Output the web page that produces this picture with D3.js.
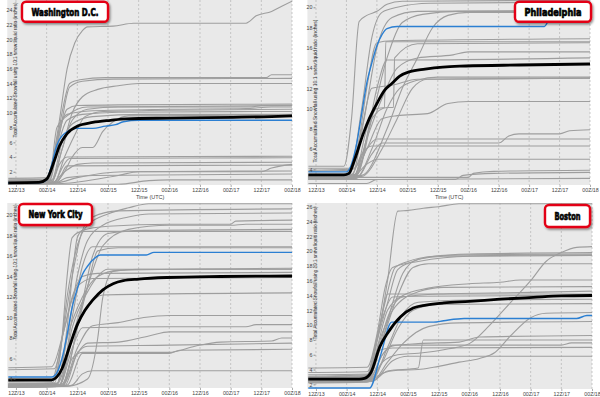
<!DOCTYPE html>
<html>
<head>
<meta charset="utf-8">
<script src="https://cdn.jsdelivr.net/npm/d3@7"></script>
<style>
  body { margin: 0; background: #fff; }
  svg { display: block; font-family: "Liberation Sans", Arial, sans-serif; }
</style>
</head>
<body>
<div class="chart"></div>
<script>
// hours after 12Z/13, one label every 12 h
const timeHours = [0, 12, 24, 36, 48, 60, 72, 84, 96, 108];
const timeLabels = ["12Z/13", "00Z/14", "12Z/14", "00Z/15", "12Z/15", "00Z/16", "12Z/16", "00Z/17", "12Z/17", "00Z/18"];
const yTitle = "Total Accumulated Snowfall using 10:1 snow:liquid ratio (inches)";

// ---- Washington D.C. ----
const dcTicks = [2, 4, 6, 8, 10, 12, 14, 16, 18, 20, 22, 24];
const dcRange = [0.2, 25.3];
const dcMean = [[-3,0.5],[9,0.55],[12,1.0],[15,3.5],[17,5.5],[20,7.2],[24,8.2],[30,8.7],[37,9.0],[43,9.2],[60,9.3],[85,9.4],[100,9.5],[108,9.6]];
const dcBlue = [[-3,0.5],[10,0.55],[12,0.9],[14,3],[16,5.6],[19,7.2],[24,7.9],[30,7.9],[35,8.2],[39,8.4],[42,8.8],[48,9.0],[108,9.0]];
const dcMembers = [
  [[-3,0.5],[11,0.6],[14,3],[17,9],[20,16],[23,19.5],[26,21.2],[28,21.7],[38,21.8],[46,22.2],[90,22.2],[94,23.2],[100,23.8],[104,24.5],[108,25.2]],
  [[-3,0.4],[12,0.5],[15,4],[18,10],[21,14],[25,14.5],[35,14.8],[98,14.8],[100,15.2],[108,15.2]],
  [[-3,0.6],[13,0.7],[17,7],[21,13.5],[26,14.3],[38,14.6],[108,14.7]],
  [[-3,0.5],[14,0.8],[18,5],[22,10],[26,12.2],[32,13.2],[40,13.7],[48,14.0],[108,14.0]],
  [[-3,0.7],[12,0.8],[16,6],[20,10.5],[24,11],[40,11.1],[108,11.2]],
  [[-3,0.5],[14,0.6],[18,5],[22,9],[28,10.5],[40,10.8],[92,10.8],[96,11.0],[108,11.0]],
  [[-3,1.1],[13,1.2],[17,8],[20,9.8],[30,10.3],[60,10.5],[90,10.6],[100,10.8],[108,10.8]],
  [[-3,0.4],[15,0.6],[19,4],[23,7],[27,9.5],[34,10.2],[108,10.5]],
  [[-3,0.6],[13,0.7],[16,5],[20,9],[26,9.8],[40,10.1],[108,10.2]],
  [[-3,0.8],[14,0.9],[18,6],[22,8.5],[30,9.5],[50,9.8],[108,9.8]],
  [[-3,0.4],[15,0.5],[19,2],[22,4],[26,5.3],[30,5.3],[34,7.5],[38,8.8],[44,9.6],[108,9.7]],
  [[-3,0.5],[14,0.6],[17,3],[20,4.0],[108,4.1]],
  [[-3,0.4],[15,0.5],[18,2.5],[21,3.8],[108,3.9]],
  [[-3,0.4],[14,0.5],[19,2],[24,3],[30,3.2],[108,3.3]],
  [[-3,0.5],[16,0.6],[20,2.8],[108,2.9]],
  [[-3,0.3],[18,0.4],[40,1.5],[48,2.0],[96,2.0],[100,2.5],[108,3.0]],
  [[-3,0.3],[15,0.4],[20,1.2],[30,1.5],[108,1.7]],
  [[-3,0.3],[40,0.3],[52,0.8],[60,0.9],[108,0.9]],
  [[-3,0.3],[16,0.5],[24,1.2],[42,2.0],[108,2.1]],
  [[-3,0.9],[13,1.0],[16,8],[20,9.6],[28,10.8],[108,11.0]]
];

// ---- Philadelphia ----
const phlTicks = [4, 6, 8, 10, 12, 14, 16, 18, 20];
const phlRange = [2.45, 20.72];
const phlMean = [[-3,3.45],[11,3.45],[13,3.6],[15,4.8],[18.6,7.5],[21,9],[24,10.5],[27,11.8],[30,12.5],[33,13.2],[37,13.65],[43,13.9],[50,14.1],[59,14.2],[80,14.3],[108,14.4]];
const phlBlue = [[-3,3.75],[12,3.75],[14,4.5],[16,6.5],[18,9.5],[20,12.5],[22,14.5],[24,16.2],[26,17.3],[28,17.9],[32,18.1],[90,18.1],[93,19.5],[97,20.3],[108,20.5]];
const phlMembers = [
  [[-3,4.3],[11,4.3],[14,9],[17,18.6],[20,19.2],[24,19.6],[28,20.3],[34,20.6],[108,20.7]],
  [[-3,3.3],[13,3.4],[18,10],[22,17],[26,19.5],[32,20.0],[45,20.4],[108,20.5]],
  [[-3,3.2],[14,3.3],[19,9],[24,16],[30,19],[40,19.6],[108,19.7]],
  [[-3,3.4],[16,3.5],[22,9],[28,15],[34,18.5],[42,19.3],[56,19.6],[108,19.6]],
  [[-3,3.3],[18,3.4],[28,8],[34,12],[40,15],[46,18],[52,19.2],[60,19.5],[108,19.5]],
  [[-3,4.1],[14,4.1],[17,7],[20,12],[24,16.5],[30,16.7],[108,16.9]],
  [[-3,3.2],[15,3.3],[20,8],[24,10],[27,10.1],[27.5,16.6],[108,16.6]],
  [[-3,3.3],[16,3.4],[22,9],[28,10.1],[30.5,10.1],[31,15],[40,16.4],[108,16.5]],
  [[-3,3.2],[15,3.4],[20,7],[26,11],[32,14],[40,15],[54,15.3],[60,15.6],[108,15.6]],
  [[-3,3.9],[14,4.0],[19,6],[24,12],[28,14.8],[34,14.8],[108,15.0]],
  [[-3,3.1],[16,3.2],[22,6],[28,10],[33,12],[40,12.8],[48,13.1],[108,13.1]],
  [[-3,3.2],[18,3.3],[26,6],[32,9],[38,12],[44,12.9],[108,13.0]],
  [[-3,3.8],[14,3.9],[18,8],[22,12],[30,12.3],[40,12.9],[108,13.0]],
  [[-3,3.0],[14,3.1],[20,6],[26,9],[32,9.3],[44,9.5],[52,10.5],[60,10.7],[108,10.7]],
  [[-3,3.0],[16,3.1],[22,5.5],[26,6.6],[50,6.6],[72,6.6],[76,7.3],[80,7.5],[96,7.5],[100,7.8],[108,7.9]],
  [[-3,3.1],[15,3.2],[20,6],[24,7.0],[108,7.0]],
  [[-3,3.5],[14,3.5],[18,5.5],[22,6.3],[108,6.3]],
  [[-3,3.1],[14,3.2],[20,4.5],[24,5.0],[108,5.0]],
  [[-3,3.2],[60,3.2],[62,3.6],[70,3.8],[108,3.9]],
  [[-3,3.0],[55,3.0],[58,3.4],[70,3.6],[108,3.7]],
  [[-3,2.6],[20,2.6],[24,3.0],[108,3.1]]
];

// ---- New York City ----
const nycTicks = [4, 6, 8, 10, 12, 14, 16, 18, 20];
const nycRange = [3.12, 21.17];
const nycMean = [[-3,3.9],[14,3.9],[16,4.2],[18,5.0],[21,7.2],[24,9.3],[27,10.7],[30,11.7],[34,12.7],[38,13.3],[42,13.6],[48,13.75],[59,13.9],[80,14.0],[108,14.05]];
const nycBlue = [[-3,4.2],[14,4.2],[16,4.6],[18,6],[20,8.3],[22,11],[24,12.8],[26,14.2],[28,15],[30,15.6],[33,16.1],[51,16.1],[54,16.35],[108,16.35]];
const nycMembers = [
  [[-3,3.6],[14,3.6],[17,6],[20,12],[24,17],[28,19],[36,20.1],[44,20.7],[52,21.1],[108,21.1]],
  [[-3,3.8],[14,3.9],[18,8],[22,14],[26,18.5],[30,19.8],[40,20.4],[108,20.6]],
  [[-3,3.5],[16,3.6],[20,8],[24,14],[28,17.5],[34,19],[44,19.8],[52,20.1],[108,20.2]],
  [[-3,3.4],[16,3.5],[20,9],[22,14],[24,17.8],[26,18.5],[36,18.9],[60,19.1],[84,19.1],[86,19.4],[108,19.5]],
  [[-3,3.3],[17,3.4],[22,8],[28,13],[34,17],[44,18.6],[60,19.0],[84,19.0],[90,19.1],[108,19.1]],
  [[-3,3.4],[18,3.5],[24,9],[30,16],[36,18.2],[50,18.5],[108,18.6]],
  [[-3,3.5],[15,3.6],[18,8],[20,14],[22,17.8],[26,18.4],[108,18.4]],
  [[-3,3.3],[17,3.4],[22,10],[26,15],[30,16.9],[108,16.9]],
  [[-3,3.2],[18,3.3],[24,9],[28,13],[32,16.5],[40,16.8],[108,16.8]],
  [[-3,3.4],[16,3.5],[20,8],[26,12],[32,14],[40,14.6],[108,14.8]],
  [[-3,3.3],[17,3.4],[22,9],[28,12.5],[36,14.7],[108,14.7]],
  [[-3,3.2],[20,3.3],[28,4],[32,8],[34,12],[38,14.5],[48,14.7],[108,14.7]],
  [[-3,3.4],[16,3.5],[22,8],[28,11],[34,12.2],[108,12.4]],
  [[-3,3.2],[18,3.3],[24,7],[30,9.2],[40,9.5],[50,10.0],[60,10.2],[108,10.2]],
  [[-3,3.3],[17,3.4],[22,7],[26,9],[60,9.1],[90,9.1],[94,9.3],[108,9.3]],
  [[-3,3.2],[18,3.3],[24,6.5],[28,7.5],[40,7.6],[52,8.2],[60,8.6],[108,8.6]],
  [[-3,3.3],[18,3.4],[22,6],[26,6.6],[60,6.6],[70,7.2],[80,7.6],[100,7.7],[104,8.0],[108,8.0]],
  [[-3,3.2],[19,3.3],[24,6.5],[28,7.2],[60,7.3],[108,7.5]],
  [[-3,3.3],[20,3.4],[26,6.5],[60,6.5],[64,6.8],[108,6.9]],
  [[-3,3.3],[20,3.3],[22,3.4],[26,4.5],[30,4.8],[108,4.8]],
  [[-3,5.1],[14,5.2],[18,8],[22,12],[26,14],[32,14.3],[108,14.4]],
  [[-3,4.9],[15,5.0],[19,9],[24,13],[30,13.8],[108,13.9]]
];

// ---- Boston ----
const bosTicks = [2, 4, 6, 8, 10, 12, 14, 16, 18, 20, 22, 24, 26];
const bosRange = [1.37, 26.46];
const bosMean = [[-3,2.7],[17,2.7],[19,2.8],[21.5,3.6],[25,7.1],[28,8.9],[33,11.1],[38,12.3],[43,12.7],[50,13.0],[60,13.2],[72,13.5],[85,13.75],[96,13.95],[108,14.0]];
const bosBlue = [[-3,1.5],[21,1.5],[25.3,5.95],[29.6,10.4],[46,10.4],[50,10.6],[58,10.9],[102,10.9],[106,11.3],[108,11.3]];
const bosMembers = [
  [[-3,3.0],[20,3.2],[24,8],[28,16],[32,25.4],[36,25.5],[42,25.8],[48,26.0],[56,26.4],[108,26.4]],
  [[-3,2.2],[20,2.3],[26,3.5],[32,3.9],[40,4.0],[46,4.3],[56,5.0],[64,5.5],[70,6.3],[76,8.5],[84,11.0],[90,11.6],[108,11.7]],
  [[-3,2.5],[21,2.6],[26,5],[32,6.0],[40,6.2],[52,6.8],[60,7.5],[68,10],[76,13],[84,16],[90,18.6],[96,19.8],[102,20.5],[108,20.6]],
  [[-3,2.6],[20,2.8],[24,8],[28,13],[32,17.5],[38,18.6],[44,19.2],[60,19.6],[108,19.8]],
  [[-3,2.9],[20,3.1],[23,7],[27,13],[31,17.8],[36,18.6],[46,19.3],[60,19.5],[108,19.6]],
  [[-3,3.3],[21,3.4],[26,8],[30,13],[34,17],[40,18.9],[50,19.3],[108,19.5]],
  [[-3,2.6],[20,2.7],[26,8],[32,14],[38,17.8],[44,18.3],[108,18.3]],
  [[-3,2.8],[21,2.9],[24,7],[28,12],[34,14],[44,15],[60,15.6],[72,15.8],[80,16.1],[108,16.1]],
  [[-3,2.5],[20,2.6],[26,9],[30,12],[40,14.5],[50,15.1],[108,15.2]],
  [[-3,2.7],[21,2.8],[24,6],[28,11],[34,13.8],[48,14.2],[80,14.4],[108,14.6]],
  [[-3,3.1],[20,3.3],[25,10],[28,14.2],[30,14.2],[108,14.2]],
  [[-3,2.6],[22,2.7],[28,7],[34,11.5],[40,13.1],[60,13.4],[108,13.5]],
  [[-3,2.4],[21,2.5],[26,5],[32,9.5],[38,12],[48,12.8],[108,12.9]],
  [[-3,2.3],[22,2.4],[28,5],[34,7.5],[44,9.8],[56,10.3],[108,10.5]],
  [[-3,2.8],[21,2.9],[26,6],[30,7.2],[40,7.5],[56,7.7],[64,8.4],[108,8.6]],
  [[-3,2.4],[22,2.5],[28,3.8],[40,4.2],[42,8.0],[108,8.0]],
  [[-3,2.6],[21,2.7],[26,6],[30,7.3],[96,7.3],[100,7.6],[108,7.6]],
  [[-3,2.9],[20,3.0],[24,6.5],[30,6.9],[108,7.0]],
  [[-3,2.3],[22,2.4],[30,5.2],[36,5.8],[108,5.8]],
  [[-3,4.2],[20,4.3],[24,9],[27,15],[30,17.8],[40,18.6],[60,19.3],[108,19.4]],
  [[-3,3.6],[20,3.7],[26,11],[30,13.8],[40,13.9],[108,14.0]]
];

const width = 600;
const height = 397;

const svg = d3.select(".chart").append("svg")
    .attr("width", width)
    .attr("height", height);

const defs = svg.append("defs");
defs.append("filter").attr("id", "shadow")
    .attr("x", "-20%").attr("y", "-20%").attr("width", "140%").attr("height", "160%")
  .append("feDropShadow")
    .attr("dx", 1.2).attr("dy", 1.5).attr("stdDeviation", 0.9)
    .attr("flood-color", "#000").attr("flood-opacity", 0.45);

// layout of the four panels (pixel positions only)
const panels = [
  { name: "Washington D.C.", members: dcMembers, mean: dcMean, blue: dcBlue, ticks: dcTicks, range: dcRange,
    x0: 8.3, x1: 292, top: 0, yTop: 0.4, yBot: 185, axisX: 15.5, titleY: 70, titleLen: 135,
    box: [22, 1.7, 86, 20], timeLabel: true },
  { name: "Philadelphia", members: phlMembers, mean: phlMean, blue: phlBlue, ticks: phlTicks, range: phlRange,
    x0: 308.4, x1: 590, top: 0, yTop: 0, yBot: 185, axisX: 315.5, titleY: 91, titleLen: 143,
    box: [515, 1.7, 76, 20], timeLabel: true },
  { name: "New York City", members: nycMembers, mean: nycMean, blue: nycBlue, ticks: nycTicks, range: nycRange,
    x0: 8.3, x1: 292, top: 203, yTop: 203, yBot: 388, axisX: 15.5, titleY: 272, titleLen: 135,
    box: [19, 204, 73, 21], timeLabel: false },
  { name: "Boston", members: bosMembers, mean: bosMean, blue: bosBlue, ticks: bosTicks, range: bosRange,
    x0: 308.3, x1: 592, top: 203, yTop: 203.3, yBot: 389, axisX: 315.5, titleY: 273, titleLen: 133,
    box: [545, 205, 45, 22], timeLabel: false }
];

panels.forEach((p, i) => drawPanel(p, i));

function drawPanel(p, idx) {
  const x = d3.scaleLinear().domain([-3, 108]).range([p.x0, p.x1]);
  const y = d3.scaleLinear().domain(p.range).range([p.yBot, p.yTop]);

  const g = svg.append("g");
  const clipId = "clip" + idx;
  defs.append("clipPath").attr("id", clipId)
    .append("rect")
      .attr("x", p.x0 - 1).attr("y", p.top)
      .attr("width", p.x1 - p.x0 + 1).attr("height", p.yBot - p.top);

  // gray background
  g.append("rect")
      .attr("x", p.x0 - 1)
      .attr("y", p.top)
      .attr("width", p.x1 - p.x0 + 1)
      .attr("height", p.yBot - p.top)
      .attr("fill", "#e9e9e9");

  // dashed vertical grid
  g.selectAll(".grid")
    .data(timeHours)
    .enter().append("line")
      .attr("x1", d => x(d)).attr("x2", d => x(d))
      .attr("y1", p.top).attr("y2", p.yBot)
      .attr("stroke", "#b4b4b4")
      .attr("stroke-width", 0.7)
      .attr("stroke-dasharray", "2,2");

  // x axis
  const xAxis = g.append("g")
      .attr("transform", `translate(0,${p.yBot})`)
      .call(d3.axisBottom(x).tickValues(timeHours).tickFormat((d, i) => timeLabels[i]).tickSize(2).tickPadding(1.5));
  xAxis.select(".domain").remove();
  xAxis.selectAll("line").attr("stroke", "#777").attr("stroke-width", 0.6);
  xAxis.selectAll("text").attr("font-size", 5.3).attr("fill", "#444");

  if (p.timeLabel) {
    g.append("text")
        .attr("x", (p.x0 + p.x1) / 2)
        .attr("y", p.yBot + 14)
        .attr("text-anchor", "middle")
        .attr("font-size", 5.5)
        .attr("fill", "#444")
        .text("Time (UTC)");
  }

  const line = d3.line()
      .x(d => x(d[0]))
      .y(d => y(d[1]))
      .curve(d3.curveMonotoneX);

  const lines = g.append("g").attr("clip-path", `url(#${clipId})`);

  lines.selectAll(".member")
    .data(p.members)
    .enter().append("path")
      .attr("class", "member")
      .attr("d", line)
      .attr("fill", "none")
      .attr("stroke", "#9e9e9e")
      .attr("stroke-width", 1.1);

  lines.append("path")
      .datum(p.blue)
      .attr("d", line)
      .attr("fill", "none")
      .attr("stroke", "#2b7fd2")
      .attr("stroke-width", 1.4);

  lines.append("path")
      .datum(p.mean)
      .attr("d", line)
      .attr("fill", "none")
      .attr("stroke", "#000")
      .attr("stroke-width", 2.8);

  // y axis drawn inside the gray area
  const yAxis = g.append("g")
      .attr("transform", `translate(${p.axisX},0)`)
      .call(d3.axisLeft(y).tickValues(p.ticks).tickSize(2).tickPadding(1));
  yAxis.select(".domain").remove();
  yAxis.selectAll("line").attr("stroke", "#555").attr("stroke-width", 0.6);
  yAxis.selectAll("text").attr("font-size", 5.3).attr("fill", "#444");

  g.append("text")
      .attr("transform", `translate(${p.axisX + 1.8},${p.titleY}) rotate(-90)`)
      .attr("text-anchor", "middle")
      .attr("font-size", 4.8)
      .attr("fill", "#333")
      .attr("textLength", p.titleLen)
      .attr("lengthAdjust", "spacingAndGlyphs")
      .text(yTitle);

  // city label box
  const [bx, by, bw, bh] = p.box;
  g.append("rect")
      .attr("x", bx).attr("y", by)
      .attr("width", bw).attr("height", bh)
      .attr("rx", 4)
      .attr("fill", "#fff")
      .attr("stroke", "#e30613")
      .attr("stroke-width", 2.4)
      .attr("filter", "url(#shadow)");

  g.append("text")
      .attr("x", bx + bw / 2)
      .attr("y", by + bh / 2 + 3.8)
      .attr("text-anchor", "middle")
      .attr("font-family", "'Liberation Sans Narrow', 'DejaVu Sans Condensed', 'Roboto Condensed', sans-serif")
      .attr("font-weight", "bold")
      .attr("font-size", 11)
      .attr("fill", "#000")
      .attr("stroke", "#000")
      .attr("stroke-width", 0.7)
      .attr("textLength", bw - 19)
      .attr("lengthAdjust", "spacingAndGlyphs")
      .text(p.name);
}
</script>
</body>
</html>
